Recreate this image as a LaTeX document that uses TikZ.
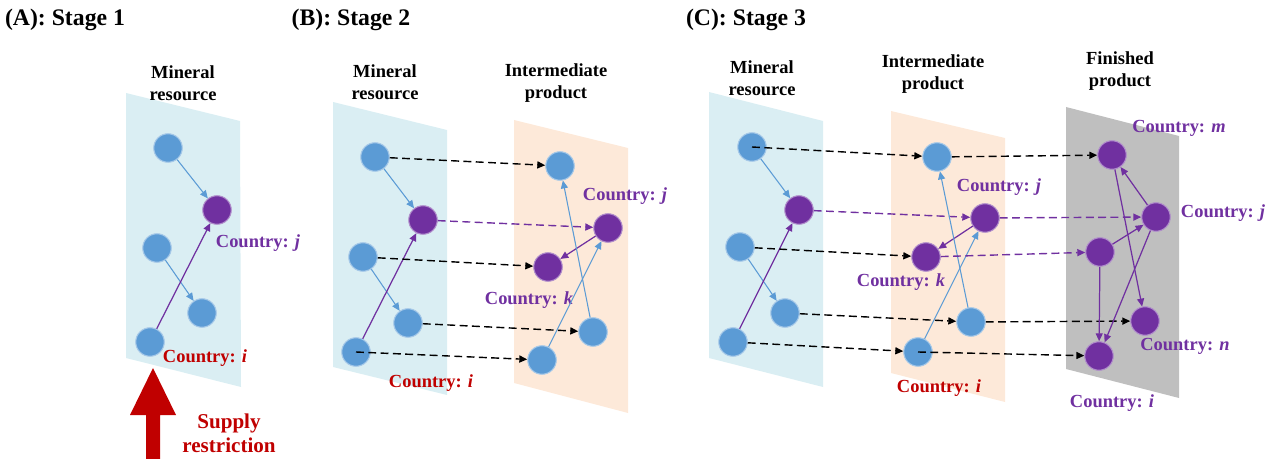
\documentclass[tikz,border=0pt]{standalone}
\usepackage{fontspec}
\setmainfont{Liberation Serif}
\usepackage{xcolor}
\usetikzlibrary{arrows.meta}
\definecolor{nodeblue}{HTML}{5B9BD5}
\definecolor{nodepurple}{HTML}{7030A0}
\definecolor{darkred}{HTML}{C00000}
\definecolor{paneblue}{HTML}{DAEEF3}
\definecolor{paneorange}{HTML}{FDE9D9}
\definecolor{panegray}{HTML}{BFBFBF}

\begin{document}
\begin{tikzpicture}[x=0.02cm,y=-0.02cm,
  bnode/.style={circle,fill=nodeblue,draw=nodeblue!55!white,line width=0.6pt,minimum size=0.57cm,inner sep=0pt},
  pnode/.style={circle,fill=nodepurple,draw=nodepurple!55!white,line width=0.6pt,minimum size=0.57cm,inner sep=0pt},
  tip/.style={-{Triangle[length=4.5pt,width=4pt]}},
  blink/.style={tip,nodeblue,line width=0.6pt},
  plink/.style={tip,nodepurple,line width=0.7pt},
  trade/.style={tip,black,dash pattern=on 4.5pt off 2.5pt,line width=0.8pt},
  ptrade/.style={tip,nodepurple,dash pattern=on 4.5pt off 2.5pt,line width=0.8pt},
  layer/.style={font=\fontsize{10.5}{12.5}\selectfont\bfseries,align=center},
  plabel/.style={font=\fontsize{10.5}{12.5}\selectfont\bfseries,text=nodepurple},
  rlabel/.style={font=\fontsize{10.5}{12.5}\selectfont\bfseries,text=darkred},
  stage/.style={font=\fontsize{13.5}{16}\selectfont\bfseries}]
\useasboundingbox (0,0) rectangle (1282,459);

% panels
\fill[paneblue] (126,93) -- (240,121) -- (241,387) -- (126,358) -- cycle;
\fill[paneblue] (333,102) -- (447,130) -- (447,395) -- (333,367) -- cycle;
\fill[paneorange] (514,120) -- (628,148) -- (628,413) -- (514,383) -- cycle;
\fill[paneblue] (709,92) -- (823,121) -- (823,387) -- (709,358) -- cycle;
\fill[paneorange] (891,111) -- (1005,138) -- (1005,402) -- (891,373) -- cycle;
\fill[panegray] (1066,107) -- (1179,136) -- (1179,398) -- (1066,369) -- cycle;

% titles
\node[stage] (ta) at (65,20) {(A): Stage 1};
\node[stage] (tb) at (351,20) {(B): Stage 2};
\node[stage] (tc) at (746,20) {(C): Stage 3};

% stage 1
\node[layer] (la) at (183,83) {Mineral\\resource};
\node[bnode] (a1) at (168,148) {};
\node[pnode] (aj) at (217,210) {};
\node[bnode] (a3) at (157,248) {};
\node[bnode] (a4) at (202,313) {};
\node[bnode] (ai) at (150,342) {};
\node[plabel] (laj) at (258,243) {Country: \textit{j}};
\node[rlabel] (lai) at (205,358) {Country: \textit{i}};
\draw[blink] (a1) -- (aj);
\draw[blink] (a3) -- (a4);
\draw[plink] (ai) -- (aj);
\fill[darkred] (146,459) -- (146,415) -- (130,415) -- (153,368) -- (176,415) -- (160,415) -- (160,459) -- cycle;
\node[rlabel,font=\fontsize{12}{13.6}\selectfont\bfseries,align=center] (sr) at (229,433) {Supply\\restriction};

% stage 2
\node[layer] (lb1) at (385,82) {Mineral\\resource};
\node[layer] (lb2) at (556,83) {Intermediate\\product};
\node[bnode] (b1) at (375,157) {};
\node[pnode] (bj) at (423,220) {};
\node[bnode] (b3) at (363,257) {};
\node[bnode] (b4) at (408,323) {};
\node[bnode] (bi) at (356,352) {};
\node[bnode] (c1) at (560,166) {};
\node[pnode] (cj) at (608,228) {};
\node[pnode] (ck) at (548,267) {};
\node[bnode] (c4) at (593,332) {};
\node[bnode] (ci) at (542,360) {};
\node[plabel] (lcj) at (625,196) {Country: \textit{j}};
\node[plabel] (lck) at (529,300) {Country: \textit{k}};
\node[rlabel] (lbi) at (431,383) {Country: \textit{i}};
\draw[blink] (b1) -- (bj);
\draw[blink] (b3) -- (b4);
\draw[plink] (bi) -- (bj);
\draw[trade] (b1) -- (c1);
\draw[ptrade] (bj) -- (cj);
\draw[trade] (b3) -- (ck);
\draw[trade] (b4) -- (c4);
\draw[trade] (bi.center) -- (ci);
\draw[plink] (cj) -- (ck);
\draw[blink] (ci) -- (cj);
\draw[blink] (c4) -- (c1);

% stage 3
\node[layer] (lc1) at (762,78) {Mineral\\resource};
\node[layer] (lc2) at (933,74) {Intermediate\\product};
\node[layer] (lc3) at (1120,71) {Finished\\product};
\node[bnode] (d1) at (752,147) {};
\node[pnode] (dj) at (799,210) {};
\node[bnode] (d3) at (740,247) {};
\node[bnode] (d4) at (785,313) {};
\node[bnode] (di) at (733,342) {};
\node[bnode] (e1) at (937,157) {};
\node[pnode] (ej) at (985,218) {};
\node[pnode] (ek) at (926,257) {};
\node[bnode] (e4) at (971,322) {};
\node[bnode] (ei) at (918,352) {};
\node[pnode] (fm) at (1112,155) {};
\node[pnode] (fj) at (1156,217) {};
\node[pnode] (fk) at (1100,252) {};
\node[pnode] (fn) at (1145,321) {};
\node[pnode] (fi) at (1099,356) {};
\node[plabel] (lej) at (999,187) {Country: \textit{j}};
\node[plabel] (lek) at (901,282) {Country: \textit{k}};
\node[rlabel] (lei) at (939,388) {Country: \textit{i}};
\node[plabel] (lfm) at (1179,128) {Country: \textit{m}};
\node[plabel] (lfj) at (1223,213) {Country: \textit{j}};
\node[plabel] (lfn) at (1185,346) {Country: \textit{n}};
\node[plabel] (lfi) at (1112,403) {Country: \textit{i}};
\draw[blink] (d1) -- (dj);
\draw[blink] (d3) -- (d4);
\draw[plink] (di) -- (dj);
\draw[trade] (d1.center) -- (e1);
\draw[ptrade] (dj) -- (ej);
\draw[trade] (d3) -- (ek);
\draw[trade] (d4) -- (e4);
\draw[trade] (di) -- (ei);
\draw[plink] (ej) -- (ek);
\draw[blink] (ei) -- (ej);
\draw[blink] (e4) -- (e1);
\draw[trade] (e1) -- (fm);
\draw[ptrade] (ej) -- (fj);
\draw[ptrade] (ek) -- (fk);
\draw[trade] (e4) -- (fn);
\draw[trade] (ei.center) -- (fi);
\draw[plink] (fj) -- (fm);
\draw[plink] (fk) -- (fj);
\draw[plink] (fm) -- (fn);
\draw[plink] (fk) -- (fi);
\draw[plink] (fj) -- (fi);
\end{tikzpicture}
\end{document}
